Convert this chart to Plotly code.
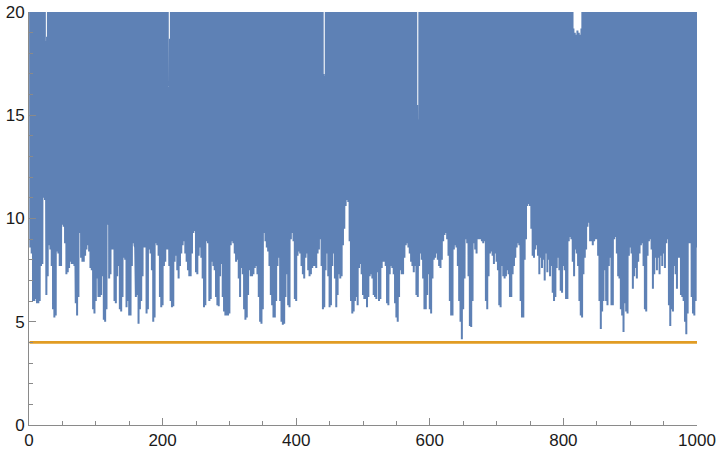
import plotly.graph_objects as go

# Local minima of the blue series (odd samples)
trough_values = [
    8.6, 8.3, 6.0, 6.0, 6.1, 5.9, 5.9, 6.0, 7.7, 7.8,
    11.0, 10.9, 6.3, 7.2, 8.7, 8.5, 7.7, 5.6, 5.2, 5.3,
    8.4, 8.3, 7.7, 7.7, 9.7, 9.6, 8.8, 7.3, 7.4, 7.6,
    7.9, 7.8, 7.8, 7.7, 5.9, 5.3, 6.2, 9.3, 8.1, 7.9,
    7.9, 8.2, 8.5, 8.7, 8.4, 7.6, 7.5, 5.6, 5.4, 6.0,
    7.1, 6.2, 6.2, 6.3, 7.2, 5.1, 5.0, 5.6, 9.7, 7.1,
    7.3, 8.5, 8.5, 6.0, 5.9, 7.2, 7.7, 5.6, 5.5, 6.2,
    8.1, 8.0, 5.7, 6.0, 5.3, 5.3, 7.7, 8.8, 8.7, 6.2,
    6.3, 4.9, 5.6, 6.0, 7.2, 8.6, 8.6, 5.4, 5.6, 8.5,
    8.3, 7.5, 5.0, 5.2, 8.8, 8.7, 8.2, 6.2, 5.7, 5.8,
    7.7, 7.9, 8.5, 8.5, 7.7, 6.0, 5.7, 5.75, 7.9, 8.2,
    7.5, 7.1, 7.7, 8.3, 8.7, 8.9, 8.3, 7.9, 7.5, 7.2,
    7.2, 8.3, 9.3, 9.4, 7.4, 7.3, 8.2, 8.6, 8.1, 7.1,
    5.7, 5.8, 8.9, 8.8, 6.0, 6.1, 7.9, 7.7, 7.5, 6.2,
    5.8, 5.75, 7.2, 7.8, 6.2, 5.5, 5.3, 5.3, 5.3, 5.4,
    8.7, 8.9, 8.8, 8.3, 7.9, 8.0, 7.1, 6.2, 7.6, 7.3,
    5.6, 5.1, 5.2, 6.3, 7.5, 7.2, 7.2, 7.3, 7.6, 7.7,
    7.3, 6.2, 5.0, 4.9, 5.6, 9.3, 8.9, 8.6, 8.4, 7.7,
    6.3, 5.8, 5.2, 5.2, 6.0, 7.7, 8.1, 6.0, 5.0, 4.85,
    4.9, 6.2, 7.3, 5.8, 5.7, 9.0, 9.3, 8.9, 6.1, 6.0,
    8.2, 8.4, 8.3, 7.7, 7.3, 7.1, 8.1, 8.3, 7.5, 7.2,
    7.3, 7.6, 7.7, 7.7, 7.6, 8.3, 8.5, 9.0, 7.7, 5.6,
    5.7, 7.5, 8.3, 7.2, 5.7, 5.8, 7.7, 8.3, 7.1, 5.7,
    6.3, 7.3, 7.1, 7.2, 8.7, 9.5, 10.6, 10.9, 10.8, 8.9,
    6.0, 5.4, 5.5, 6.0, 6.2, 5.8, 7.6, 7.8, 7.3, 6.3,
    6.1, 6.1, 5.7, 6.2, 7.2, 7.3, 7.1, 6.3, 6.2, 6.1,
    7.4, 6.0, 6.1, 7.6, 7.9, 7.9, 7.7, 5.9, 5.8, 7.3,
    7.7, 7.6, 7.3, 5.9, 5.2, 5.0, 6.2, 7.5, 7.3, 7.3,
    8.1, 8.7, 8.8, 8.6, 8.3, 7.9, 7.7, 7.4, 7.7, 6.3,
    6.2, 7.7, 8.3, 8.0, 7.1, 5.6, 5.6, 6.3, 7.3, 5.6,
    5.4, 7.1, 8.0, 8.1, 8.3, 8.0, 7.7, 7.6, 8.0, 8.9,
    9.2, 9.3, 9.0, 8.2, 6.0, 5.3, 5.3, 8.5, 8.7, 8.6,
    7.7, 6.0, 5.0, 4.15, 5.6, 7.1, 9.0, 8.8, 7.2, 4.8,
    4.75, 6.0, 8.8, 8.5, 8.3, 9.0, 9.0, 9.0, 8.9, 8.8,
    8.9, 6.0, 5.6, 7.2, 8.3, 8.4, 8.2, 7.8, 8.3, 7.9,
    7.5, 5.8, 5.7, 7.7, 7.2, 7.1, 7.2, 7.5, 7.3, 6.2,
    6.2, 7.3, 7.7, 8.1, 8.6, 8.8, 8.7, 6.0, 5.2, 5.2,
    8.0, 9.0, 10.6, 10.7, 10.6, 9.5, 8.2, 8.1, 8.5, 8.7,
    8.2, 7.3, 8.1, 7.6, 8.0, 7.0, 8.3, 7.4, 8.0, 7.2,
    7.7, 6.4, 6.0, 6.2, 7.6, 8.1, 7.5, 6.5, 6.4, 7.7,
    7.5, 6.1, 6.1, 8.9, 9.1, 9.0, 7.9, 7.2, 8.5, 8.3,
    7.7, 6.0, 5.3, 5.2, 7.3, 8.1, 8.5, 9.6, 9.8, 8.9,
    8.9, 8.7, 8.9, 9.0, 9.0, 8.2, 6.0, 4.65, 5.5, 6.0,
    7.5, 6.0, 5.8, 7.7, 8.1, 5.8, 5.8, 9.0, 9.1, 8.3,
    7.2, 7.1, 5.6, 5.3, 4.5, 5.9, 5.5, 5.4, 8.2, 8.6,
    8.3, 6.6, 7.2, 7.6, 7.1, 7.9, 8.3, 8.7, 8.8, 7.7,
    5.6, 5.5, 8.2, 8.9, 9.0, 8.5, 6.6, 7.3, 8.1, 7.5,
    8.1, 7.3, 8.2, 7.7, 8.3, 7.6, 8.8, 9.0, 5.8, 4.8,
    5.6, 5.5, 7.7, 7.3, 6.6, 8.1, 8.1, 6.3, 6.2, 6.0,
    5.0, 4.4, 5.4, 8.8, 8.8, 6.2, 5.4, 5.3, 6.0, 8.6,
]

# Local maxima of the blue series (even samples); most lie above the plot range
peak_values = [
    40, 36, 45, 38, 52, 41, 35, 48, 39, 44,
    37, 42, 18.6, 18.8, 46, 39, 50, 36, 43, 40,
    47, 38, 41, 55, 36, 42, 39, 45, 37, 49,
    41, 36, 44, 39, 10.0, 46, 38, 42, 51, 37,
    43, 40, 36, 48, 39, 45, 41, 37, 53, 40,
    38, 11.4, 44, 39, 47, 36, 42, 50, 38, 41,
    45, 37, 40, 49, 36, 43, 39, 46, 41, 38,
    52, 40, 37, 44, 39, 48, 36, 42, 45, 8.6,
    40, 47, 38, 43, 36, 50, 41, 39, 45, 37,
    42, 48, 36, 40, 44, 39, 53, 38, 41, 46,
    37, 43, 39, 49, 15.8, 18.7, 40, 45, 36, 42,
    47, 38, 41, 44, 36, 51, 39, 43, 37, 46,
    40, 42, 48, 36, 45, 39, 41, 50, 38, 44,
    37, 43, 46, 39, 40, 52, 36, 42, 45, 38,
    41, 47, 39, 44, 36, 40, 49, 38, 43, 45,
    37, 42, 50, 39, 41, 46, 36, 44, 38, 48,
    40, 43, 37, 45, 39, 51, 42, 36, 47, 41,
    38, 44, 40, 46, 18.4, 39, 43, 37, 49, 42,
    36, 45, 41, 16.0, 38, 44, 40, 52, 37, 43,
    46, 39, 41, 36, 48, 42, 38, 45, 40, 44,
    37, 50, 39, 43, 41, 46, 36, 42, 47, 38,
    44, 40, 37, 49, 42, 39, 45, 36, 43, 41,
    17.0, 16.9, 46, 38, 44, 40, 51, 37, 42, 45,
    39, 43, 36, 48, 41, 38, 44, 40, 46, 37,
    42, 50, 39, 45, 36, 43, 41, 47, 38, 44,
    40, 37, 49, 42, 39, 46, 36, 44, 41, 38,
    45, 40, 43, 37, 52, 39, 42, 46, 36, 18.9,
    41, 44, 38, 47, 40, 43, 36, 45, 39, 42,
    48, 37, 41, 44, 39, 46, 40, 38, 43, 45,
    15.5, 14.8, 42, 39, 47, 36, 44, 40, 50, 38,
    43, 41, 37, 46, 39, 45, 42, 36, 48, 40,
    44, 38, 41, 47, 37, 43, 40, 45, 39, 16.0,
    42, 46, 36, 44, 40, 51, 38, 43, 41, 37,
    45, 39, 42, 48, 36, 44, 40, 46, 38, 41,
    43, 37, 47, 40, 45, 39, 42, 36, 49, 44,
    38, 41, 46, 40, 43, 37, 45, 39, 42, 48,
    36, 44, 40, 47, 41, 38, 43, 18.9, 45, 39,
    42, 46, 37, 44, 40, 50, 38, 43, 41, 45,
    39, 42, 36, 48, 40, 44, 37, 46, 41, 43,
    38, 45, 40, 42, 47, 36, 44, 39, 41, 46,
    37, 43, 40, 48, 38, 45, 42, 19.2, 19.0, 18.9,
    19.1, 19.0, 18.9, 19.2, 44, 39, 46, 41, 37, 43,
    40, 47, 38, 45, 42, 36, 49, 41, 44, 39,
    43, 37, 46, 40, 42, 48, 38, 45, 41, 36,
    44, 40, 47, 39, 43, 37, 50, 42, 38, 45,
    41, 46, 36, 44, 40, 43, 48, 39, 42, 37,
    45, 41, 38, 47, 40, 44, 36, 43, 46, 39,
    42, 18.9, 45, 37, 41, 48, 40, 44, 38, 43,
    46, 39, 42, 36, 47, 41, 44, 40, 38, 45,
    43, 37, 49, 41, 40, 46, 38, 44, 42, 39,
]

lower_bound = 4.0
x_ticks = [0, 200, 400, 600, 800, 1000]
y_ticks = [0, 5, 10, 15, 20]

# Assemble the series: samples alternate peak / trough
y_blue = []
for p, t in zip(peak_values, trough_values):
    y_blue.append(p)
    y_blue.append(t)
x_blue = list(range(1, len(y_blue) + 1))

BLUE = "#5E81B5"
ORANGE = "#E19C24"
AXIS = "#8a8a8a"
FONT = "Liberation Sans"

fig = go.Figure()
fig.add_trace(go.Scatter(x=x_blue, y=y_blue, mode="lines",
                         line=dict(color=BLUE, width=2), hoverinfo="skip"))
fig.add_trace(go.Scatter(x=[x_blue[0], x_blue[-1]], y=[lower_bound, lower_bound],
                         mode="lines", line=dict(color=ORANGE, width=2.6),
                         hoverinfo="skip"))

axis_common = dict(
    showgrid=False, zeroline=False, showline=True, linecolor=AXIS, linewidth=1,
    ticks="inside", tickcolor=AXIS, tickwidth=1, automargin=False,
    tickfont=dict(family=FONT, size=17, color="#1a1a1a"),
)

fig.update_layout(
    width=720, height=454,
    margin=dict(l=29, r=23, t=12, b=29, autoexpand=False),
    paper_bgcolor="white", plot_bgcolor="white",
    showlegend=False, hovermode=False,
    xaxis=dict(range=[0, 1000], tickmode="array", tickvals=x_ticks,
               ticktext=[str(v) for v in x_ticks], ticklen=7,
               minor=dict(ticks="inside", ticklen=4, tickcolor=AXIS,
                          tickmode="linear", tick0=0, dtick=50, showgrid=False),
               **axis_common),
    yaxis=dict(range=[0, 20], tickmode="array", tickvals=y_ticks,
               ticktext=[str(v) for v in y_ticks], ticklen=7,
               minor=dict(ticks="inside", ticklen=4, tickcolor=AXIS,
                          tickmode="linear", tick0=0, dtick=1, showgrid=False),
               **axis_common),
)

fig.write_html(
    "out.html",
    config={"displayModeBar": False, "staticPlot": True},
    post_script="document.body.style.margin='0';document.body.style.overflow='hidden';",
)
